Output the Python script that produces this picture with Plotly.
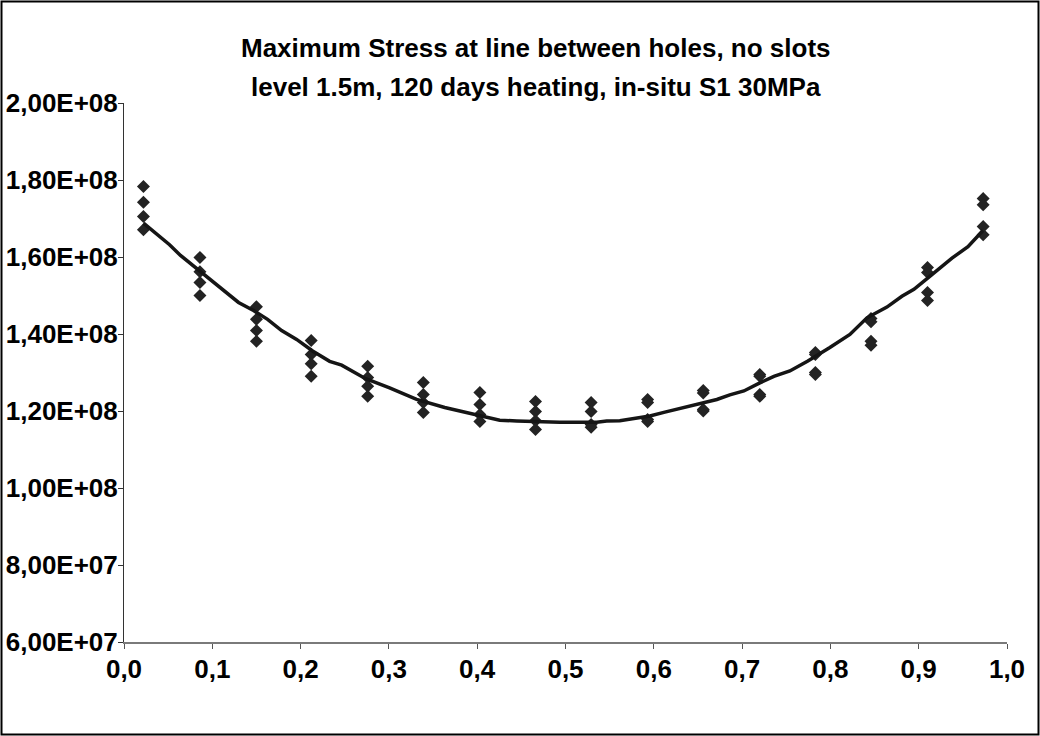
import plotly.graph_objects as go

# ---- data ----
cluster_x = [0.022, 0.086, 0.150, 0.212, 0.276, 0.339, 0.403, 0.466,
             0.529, 0.593, 0.656, 0.720, 0.783, 0.846, 0.910, 0.973]
stress_a = [1.783e8, 1.599e8, 1.471e8, 1.383e8, 1.316e8, 1.274e8, 1.248e8, 1.225e8,
            1.222e8, 1.230e8, 1.253e8, 1.295e8, 1.352e8, 1.440e8, 1.573e8, 1.752e8]
stress_b = [1.742e8, 1.562e8, 1.438e8, 1.347e8, 1.287e8, 1.243e8, 1.217e8, 1.199e8,
            1.199e8, 1.222e8, 1.247e8, 1.290e8, 1.347e8, 1.432e8, 1.560e8, 1.736e8]
stress_c = [1.705e8, 1.534e8, 1.409e8, 1.323e8, 1.264e8, 1.222e8, 1.191e8, 1.175e8,
            1.165e8, 1.178e8, 1.204e8, 1.243e8, 1.300e8, 1.381e8, 1.508e8, 1.679e8]
stress_d = [1.671e8, 1.500e8, 1.381e8, 1.290e8, 1.238e8, 1.196e8, 1.173e8, 1.152e8,
            1.158e8, 1.173e8, 1.200e8, 1.238e8, 1.295e8, 1.371e8, 1.487e8, 1.658e8]

fit_x = [0.0221, 0.0516, 0.0640, 0.0856, 0.1048, 0.1297, 0.1467, 0.1626, 0.1785,
         0.1955, 0.2136, 0.2329, 0.2465, 0.2737, 0.3008, 0.3314, 0.3632, 0.4028,
         0.4255, 0.4448, 0.4935, 0.5354, 0.5467, 0.5615, 0.5751, 0.5955, 0.6125,
         0.6329, 0.6521, 0.6714, 0.6861, 0.7020, 0.7201, 0.7360, 0.7541, 0.7745,
         0.7994, 0.8221, 0.8414, 0.8640, 0.8810, 0.8946, 0.9105, 0.9377, 0.9558,
         0.9728]
fit_y = [1.688e8, 1.632e8, 1.604e8, 1.564e8, 1.531e8, 1.482e8, 1.461e8, 1.438e8,
         1.409e8, 1.386e8, 1.356e8, 1.329e8, 1.319e8, 1.284e8, 1.260e8, 1.230e8,
         1.209e8, 1.187e8, 1.176e8, 1.174e8, 1.171e8, 1.171e8, 1.174e8, 1.175e8,
         1.179e8, 1.187e8, 1.197e8, 1.209e8, 1.219e8, 1.230e8, 1.242e8, 1.252e8,
         1.273e8, 1.290e8, 1.304e8, 1.330e8, 1.365e8, 1.399e8, 1.442e8, 1.470e8,
         1.498e8, 1.516e8, 1.546e8, 1.597e8, 1.627e8, 1.669e8]

x_tick_vals = [0.0, 0.1, 0.2, 0.3, 0.4, 0.5, 0.6, 0.7, 0.8, 0.9, 1.0]
x_tick_text = ["0,0", "0,1", "0,2", "0,3", "0,4", "0,5", "0,6", "0,7", "0,8", "0,9", "1,0"]
y_tick_vals = [6e7, 8e7, 1e8, 1.2e8, 1.4e8, 1.6e8, 1.8e8, 2e8]
y_tick_text = ["6,00E+07", "8,00E+07", "1,00E+08", "1,20E+08",
               "1,40E+08", "1,60E+08", "1,80E+08", "2,00E+08"]

title_lines = ["Maximum Stress at line between holes, no slots",
               "level 1.5m, 120 days heating, in-situ S1 30MPa"]

FONT = "Liberation Sans, Arial, sans-serif"
INK = "#232323"

# plot-area geometry (pixels)
L, R, T, B = 124, 33, 103, 94
PW, PH = 1040 - L - R, 736 - T - B


def px_x(px):
    return (px - L) / PW


def px_y(py):
    return (736 - B - py) / PH


fig = go.Figure()
all_x = cluster_x * 4
all_y = stress_a + stress_b + stress_c + stress_d
fig.add_trace(go.Scatter(
    x=all_x, y=all_y, mode="markers",
    marker=dict(symbol="diamond", size=10, color=INK, line=dict(width=0)),
    showlegend=False, hoverinfo="skip"))
fig.add_trace(go.Scatter(
    x=fit_x, y=fit_y, mode="lines",
    line=dict(color="#151515", width=3.5),
    showlegend=False, hoverinfo="skip"))

annotations = []
for line_text, py in zip(title_lines, [48, 87]):
    annotations.append(dict(
        text=line_text, xref="paper", yref="paper", x=px_x(536), y=px_y(py),
        xanchor="center", yanchor="middle", showarrow=False,
        font=dict(family=FONT, size=26, color="black", weight="bold")))

fig.update_layout(
    width=1040, height=736,
    paper_bgcolor="white", plot_bgcolor="white",
    margin=dict(l=L, r=R, t=T, b=B, pad=0, autoexpand=False),
    font=dict(family=FONT, size=26, color="black", weight="bold"),
    annotations=annotations,
    xaxis=dict(range=[0, 1], tickvals=x_tick_vals, ticktext=x_tick_text,
               showgrid=False, zeroline=False, showline=True, linecolor="#7a7a7a",
               linewidth=1.5, ticks="outside", ticklen=5, tickcolor="#555",
               automargin=False,
               tickfont=dict(family=FONT, size=26, weight="bold"), ticklabelstandoff=-2),
    yaxis=dict(range=[6e7, 2e8], tickvals=y_tick_vals, ticktext=y_tick_text,
               showgrid=False, zeroline=False, showline=True, linecolor="#333",
               linewidth=1, ticks="outside", ticklen=5, tickcolor="#333",
               automargin=False, ticklabelstandoff=-5,
               tickfont=dict(family=FONT, size=26, weight="bold")),
    shapes=[dict(type="rect", xref="paper", yref="paper",
                 x0=px_x(1.5), x1=px_x(1038.5),
                 y0=px_y(734.5), y1=px_y(1.5),
                 line=dict(color="black", width=2), fillcolor="rgba(0,0,0,0)",
                 layer="below")],
)

fig.write_html("out.html", config={"displayModeBar": False},
               post_script="document.body.style.margin='0';document.body.style.padding='0';")
